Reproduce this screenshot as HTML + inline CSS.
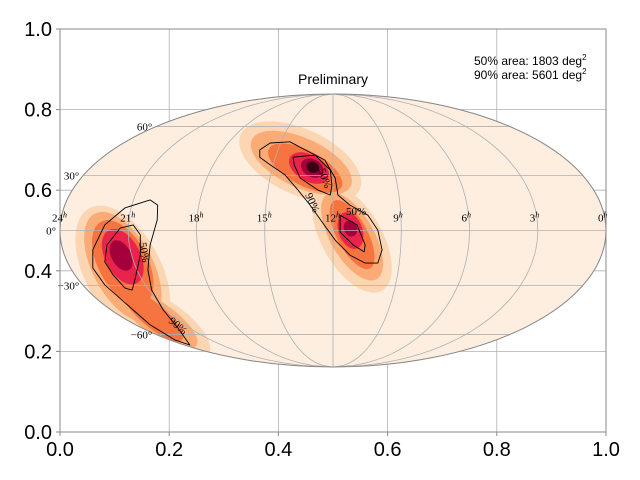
<!DOCTYPE html>
<html><head><meta charset="utf-8"><style>
body{margin:0;background:#fff}
svg{display:block}
.tk{font-family:"Liberation Sans",sans-serif;font-size:20px;fill:#000}
.sv{font-family:"Liberation Serif",serif;font-size:11px;fill:#000}
</style></head><body>
<svg id="c" width="640" height="480" viewBox="0 0 640 480"></svg>
<script>
// axes tick values
const xTicks=[0.0,0.2,0.4,0.6,0.8,1.0];
const yTicks=[0.0,0.2,0.4,0.6,0.8,1.0];
// sky grid
const raHours=[24,21,18,15,12,9,6,3,0];
const decLines=[60,30,0,-30,-60];
// probability blobs in axes coordinates: center x, center y, radii (axes-width fraction), rotation deg, level
const blobX=[0.440,0.535,0.115,0.190,0.810, 0.442,0.535,0.115,0.180, 0.449,0.535,0.115,0.170, 0.456,0.532,0.115, 0.462,0.532,0.112, 0.463];
const blobY=[0.670,0.480,0.400,0.270,0.210, 0.668,0.485,0.410,0.280, 0.655,0.490,0.420,0.290, 0.655,0.500,0.435, 0.655,0.505,0.438, 0.657];
const blobRx=[0.120,0.110,0.130,0.100,0.040, 0.100,0.090,0.110,0.085, 0.075,0.070,0.085,0.070, 0.040,0.035,0.055, 0.022,0.015,0.030, 0.012];
const blobRy=[0.060,0.055,0.070,0.040,0.012, 0.045,0.040,0.055,0.030, 0.032,0.028,0.045,0.022, 0.024,0.022,0.032, 0.016,0.012,0.018, 0.010];
const blobRot=[25,60,62,35,-10, 25,60,62,35, 28,62,62,40, 30,70,62, 30,70,62, 30];
const blobLevel=[1,1,1,1,1, 2,2,2,2, 3,3,3,3, 4,4,4, 5,5,5, 6];
const levelColors=["#fdeee0","#fcd5b2","#fbac76","#f6743f","#e8244a","#a3003c","#3a0012"];
// contours (axes coordinates)
const c90aX=[.366,.385,.421,.449,.485,.504,.509,.531,.564,.582,.590,.582,.559,.531,.504,.480,.458,.436,.412,.381,.366];
const c90aY=[.700,.717,.720,.700,.675,.630,.588,.563,.538,.501,.452,.419,.419,.439,.476,.521,.563,.600,.638,.667,.682];
const c50aX=[.427,.467,.495,.498,.495,.473,.440,.429];
const c50aY=[.682,.687,.650,.613,.588,.600,.630,.663];
const c50bX=[.513,.544,.559,.557,.537,.513];
const c50bY=[.538,.514,.464,.447,.464,.496];
const c90bX=[.082,.119,.165,.179,.178,.165,.161,.168,.189,.216,.238,.211,.165,.128,.082,.060,.060,.073];
const c90bY=[.514,.556,.576,.563,.526,.464,.402,.352,.303,.258,.216,.228,.266,.310,.365,.407,.452,.489];
const c50cX=[.086,.110,.134,.147,.147,.137,.132,.119,.097,.082];
const c50cY=[.464,.506,.514,.489,.439,.377,.352,.357,.390,.422];

const L=60,R=606,T=29,B=432,W=R-L,H=B-T;
const sx=v=>L+v*W, sy=v=>B-v*H;
const cx=sx(0.5), cy=sy(0.5), A=W/2, Bb=A/2;
const NS="http://www.w3.org/2000/svg";
const svg=document.getElementById('c');
function mk(t,at,p){const e=document.createElementNS(NS,t);for(const k in at)e.setAttribute(k,at[k]);(p||svg).appendChild(e);return e;}
function theta(dec){const p=dec*Math.PI/180;if(Math.abs(dec)>=90)return p;let t=p;for(let i=0;i<30;i++){t-= (2*t+Math.sin(2*t)-Math.PI*Math.sin(p))/(2+2*Math.cos(2*t));}return t;}
function proj(ra,dec){const lam=(12-ra)*15*Math.PI/180;const t=theta(dec);return [cx+(lam/Math.PI)*A*Math.cos(t), cy-Bb*Math.sin(t)];}

const g=mk('g',{});

xTicks.forEach(v=>{const l=mk('line',{x1:sx(v),x2:sx(v),y1:T,y2:B,stroke:'#b0b0b0','stroke-width':0.8},g);});
yTicks.forEach(v=>{const l=mk('line',{x1:L,x2:R,y1:sy(v),y2:sy(v),stroke:'#b0b0b0','stroke-width':0.8},g);});

const defs=mk('defs',{});
const cp=mk('clipPath',{id:'sky'},defs);
mk('ellipse',{cx:cx,cy:cy,rx:A,ry:Bb},cp);
const bg=mk('ellipse',{cx:cx,cy:cy,rx:A,ry:Bb,fill:levelColors[0]});

const hm=mk('g',{'clip-path':'url(#sky)'});

for(let i=0;i<blobX.length;i++){
 const e=mk('ellipse',{cx:sx(blobX[i]),cy:sy(blobY[i]),rx:blobRx[i]*W,ry:blobRy[i]*W,fill:levelColors[blobLevel[i]],transform:`rotate(${blobRot[i]} ${sx(blobX[i])} ${sy(blobY[i])})`},hm);
 
}
const sg=mk('g',{'clip-path':'url(#sky)',fill:'none',stroke:'#b0b0b0','stroke-width':0.8});

raHours.forEach(h=>{let d='';for(let dec=-90;dec<=90;dec+=3){const p=proj(h,dec);d+=(dec==-90?'M':'L')+p[0].toFixed(1)+','+p[1].toFixed(1);}const e=mk('path',{d:d},sg);});
decLines.forEach(dc=>{const a=proj(24,dc),b=proj(0,dc);const e=mk('line',{x1:a[0],x2:b[0],y1:a[1],y2:b[1]},sg);});
function contour(xs,ys,name){let d='';xs.forEach((x,i)=>{d+=(i?'L':'M')+sx(x).toFixed(1)+','+sy(ys[i]).toFixed(1);});d+='Z';const e=mk('path',{d:d,fill:'none',stroke:'#000','stroke-width':0.9,'stroke-linejoin':'round'});}
contour(c90aX,c90aY,'contour-90-north');
contour(c50aX,c50aY,'contour-50-north');
contour(c50bX,c50bY,'contour-50-middle');
contour(c90bX,c90bY,'contour-90-south');
contour(c50cX,c50cY,'contour-50-south');
[["50%",318,170,70],["90%",305,195,65],["50%",346,215,0],["50%",139,243,80],["90%",168,322,40]].forEach(a=>{const t=mk('text',{x:a[1],y:a[2],class:'sv','font-size':9,transform:`rotate(${a[3]} ${a[1]} ${a[2]})`});t.textContent=a[0];});
const bd=mk('ellipse',{cx:cx,cy:cy,rx:A,ry:Bb,fill:'none',stroke:'#888','stroke-width':1});

raHours.forEach(h=>{const p=proj(h,0);const t=mk('text',{x:p[0]-8,y:p[1]-9,class:'sv'});t.innerHTML=h+'<tspan font-size="8" dy="-4" font-style="italic">h</tspan>';});
decLines.forEach(dc=>{const p=proj(24,dc);const t=mk('text',{x:p[0]-4,y:p[1]+4,class:'sv','text-anchor':'end'});t.textContent=(dc<0?'\u2212':'')+Math.abs(dc)+'\u00B0';});
const fr=mk('rect',{x:L,y:T,width:W,height:H,fill:'none',stroke:'#888','stroke-width':1});

xTicks.forEach(v=>{mk('line',{x1:sx(v),x2:sx(v),y1:B,y2:B+4,stroke:'#888'});const t=mk('text',{x:sx(v),y:B+24,class:'tk','text-anchor':'middle'});t.textContent=v.toFixed(1);});
yTicks.forEach(v=>{mk('line',{x1:L-4,x2:L,y1:sy(v),y2:sy(v),stroke:'#888'});const t=mk('text',{x:L-8,y:sy(v)+7,class:'tk','text-anchor':'end'});t.textContent=v.toFixed(1);});
const pr=mk('text',{x:cx,y:84,'font-family':'Liberation Sans,sans-serif','font-size':14,'text-anchor':'middle'});pr.textContent='Preliminary';
[["50% area: 1803 deg",65],["90% area: 5601 deg",79]].forEach(a=>{const t=mk('text',{x:474,y:a[1],'font-family':'Liberation Sans,sans-serif','font-size':12});t.innerHTML=a[0]+'<tspan font-size="8" dy="-5">2</tspan>';});
</script>
</body></html>
